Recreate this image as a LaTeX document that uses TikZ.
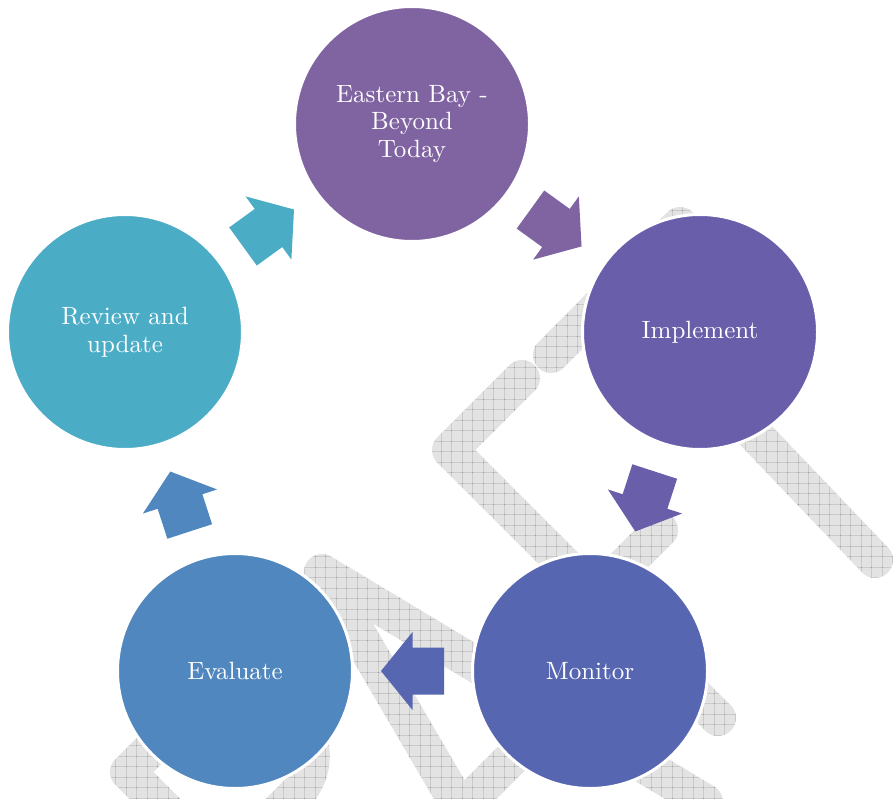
\documentclass[tikz,border=0pt]{standalone}
\usepackage{fontspec}
\setmainfont{lmroman10-regular.otf}
\usepackage{tikz}
\usetikzlibrary{calc}

\definecolor{reviewcol}{RGB}{75,172,198}
\definecolor{bayviolet}{RGB}{128,100,162}
\definecolor{implcol}{RGB}{104,94,170}
\definecolor{monitorcol}{RGB}{87,102,177}
\definecolor{evalcol}{RGB}{80,135,190}
\definecolor{wmgrey}{RGB}{227,227,227}

\tikzset{
  stage/.style={circle, draw=white, line width=3pt, minimum size=235pt,
    inner sep=0pt, align=center, text=white,
    font=\fontsize{25}{27.5}\selectfont},
  wmstroke/.style={draw=wmgrey, line width=36pt, line cap=round, line join=round},
  wmgrid/.style={draw=black!48, line width=0.7pt, blend mode=color burn},
  blockarrow/.pic={
    \fill[#1] (-31.5,-23.5) -- (0,-23.5) -- (0,-39) -- (31.5,0)
      -- (0,39) -- (0,23.5) -- (-31.5,23.5) -- cycle;
  }
}

\begin{document}
\begin{tikzpicture}[x=1pt, y=-1pt]
  % page
  \fill[white] (0,0) rectangle (896,799);
  \useasboundingbox (0,0) rectangle (896,799);

  %--- watermark in the background ---
  \begin{scope}
    \clip (0,0) rectangle (896,799);
    % R
    \draw[wmstroke] (180,824) -- (128,772) -- (205,695)
      .. controls (250,650) and (345,730) .. (300,790) -- (270,820);
    % A
    \draw[wmstroke] (470,825) -- (322,572) -- (705,802);
    \draw[wmstroke] (450,820) -- (565,705);
    % F
    \draw[wmstroke] (522,378) -- (450,450) -- (718,718);
    \draw[wmstroke] (592,598) -- (660,530);
    % T
    \draw[wmstroke] (551,355) -- (680,225);
    \draw[wmstroke] (617,290) -- (875,560);
    % hatching, only darkens the grey
    \foreach \gx in {0,10.5,...,896}
      \draw[wmgrid] (\gx,0) -- (\gx,799);
    \foreach \gy in {0,10.5,...,799}
      \draw[wmgrid] (0,\gy) -- (896,\gy);
  \end{scope}

  %--- the cycle ---
  \node[stage, fill=bayviolet] (eastern) at (412,124) {Eastern Bay -\\Beyond\\Today};
  \node[stage, fill=implcol] (implement) at (700,332) {Implement};
  \node[stage, fill=monitorcol] (monitor) at (590,671) {Monitor};
  \node[stage, fill=evalcol] (evaluate) at (235,671) {Evaluate};
  \node[stage, fill=reviewcol] (review) at (125,332) {Review and\\update};

  % block arrows between the stages
  \path (review) -- (eastern) pic[pos=0.5, sloped, allow upside down] {blockarrow=reviewcol};
  \path (eastern) -- (implement) pic[pos=0.5, sloped, allow upside down] {blockarrow=bayviolet};
  \path (implement) -- (monitor) pic[pos=0.5, sloped, allow upside down] {blockarrow=implcol};
  \path (monitor) -- (evaluate) pic[pos=0.5, sloped, allow upside down] {blockarrow=monitorcol};
  \path (evaluate) -- (review) pic[pos=0.5, sloped, allow upside down] {blockarrow=evalcol};
\end{tikzpicture}
\end{document}
